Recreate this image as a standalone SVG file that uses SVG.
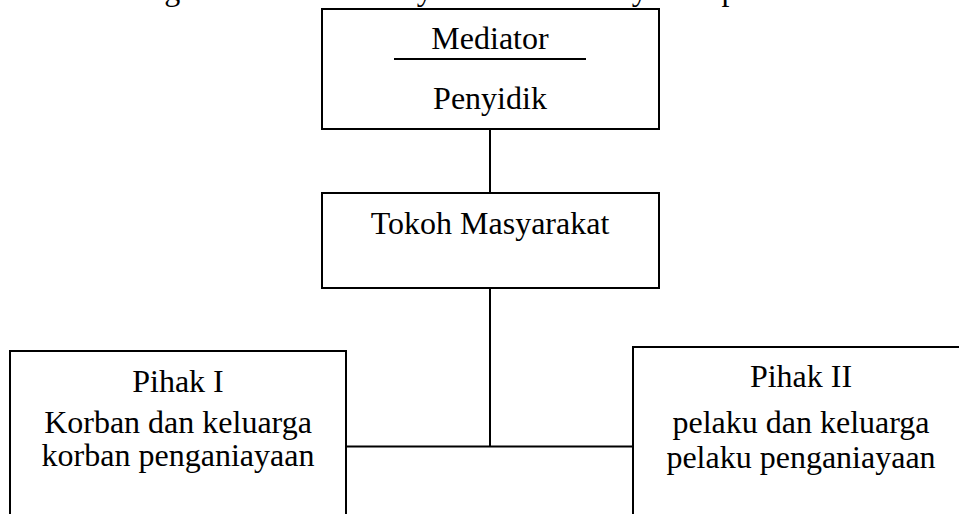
<svg xmlns="http://www.w3.org/2000/svg" width="959" height="514" viewBox="0 0 959 514">
<style>
.box{fill:#fff;stroke:#000;stroke-width:2}
.t{font-family:"Liberation Serif","Times New Roman",serif;font-size:32px;fill:#000;text-anchor:middle}
.c{stroke:#000;stroke-width:2;fill:none}
</style>
<rect width="959" height="514" fill="#fff"/>
<text class="t" x="893" y="-0.5" style="text-anchor:end">Bagan 4. Model Family and Community Group Conference</text>
<g id="connectors">
<line class="c" x1="490" y1="129" x2="490" y2="193"/>
<line class="c" x1="490" y1="288" x2="490" y2="447"/>
<line class="c" x1="346" y1="446.5" x2="633" y2="446.5"/>
</g>
<g id="mediator">
<rect class="box" x="322" y="9" width="337" height="120"/>
<text class="t" x="490" y="49">Mediator</text>
<line class="c" x1="394" y1="59" x2="586" y2="59"/>
<text class="t" x="490" y="109">Penyidik</text>
</g>
<g id="tokoh">
<rect class="box" x="322" y="193" width="337" height="95"/>
<text class="t" x="490" y="234">Tokoh Masyarakat</text>
</g>
<g id="pihak1">
<rect class="box" x="10" y="351" width="336" height="180"/>
<text class="t" x="178" y="392">Pihak I</text>
<text class="t" x="178" y="433">Korban dan keluarga</text>
<text class="t" x="178" y="466">korban penganiayaan</text>
</g>
<g id="pihak2">
<rect class="box" x="633" y="347" width="340" height="180"/>
<text class="t" x="801" y="387">Pihak II</text>
<text class="t" x="801" y="433">pelaku dan keluarga</text>
<text class="t" x="801" y="468">pelaku penganiayaan</text>
</g>
</svg>
